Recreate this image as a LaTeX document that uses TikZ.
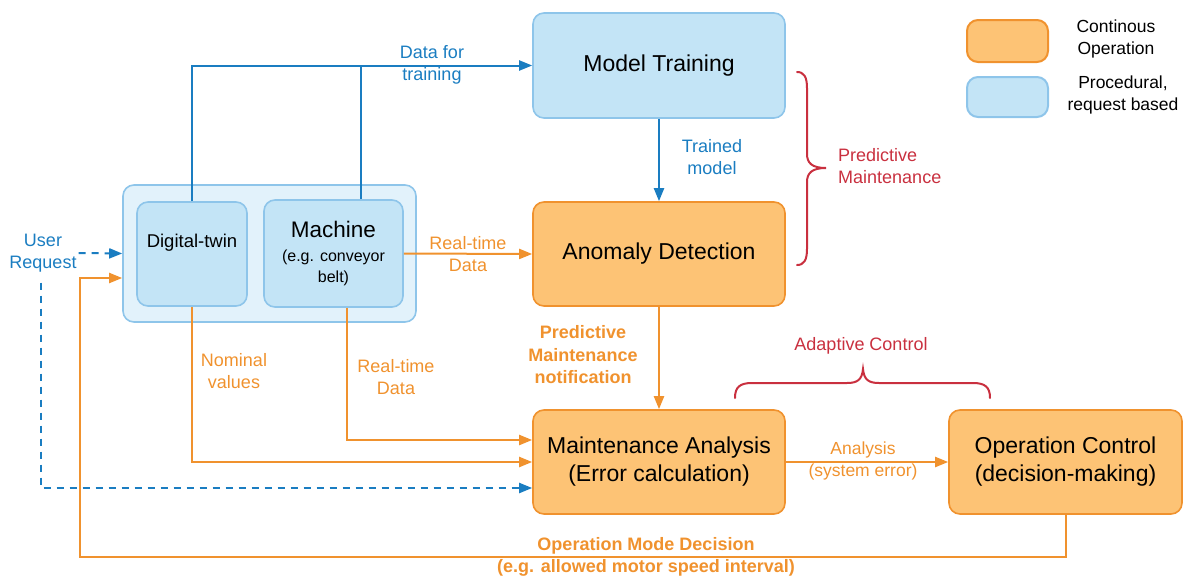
\documentclass[tikz,border=0pt]{standalone}
\usepackage{fontspec}
\setmainfont{Liberation Sans}
\usetikzlibrary{arrows.meta,calc}
\definecolor{bline}{HTML}{1A7DC1}
\definecolor{oline}{HTML}{F0922E}
\definecolor{ofill}{HTML}{FDC375}
\definecolor{bfill}{HTML}{C3E4F6}
\definecolor{bdraw}{HTML}{8EC5EA}
\definecolor{gfill}{HTML}{E2F2FB}
\definecolor{rcol}{HTML}{C9303F}
\begin{document}
\begin{tikzpicture}[x=1pt,y=-1pt,
 bbox/.style={draw=bdraw,fill=bfill,line width=1.6pt,rounded corners=11pt,inner sep=0pt,align=center},
 obox/.style={draw=oline,fill=ofill,line width=1.6pt,rounded corners=11pt,inner sep=0pt,align=center},
 big/.style={font=\fontsize{23}{28}\selectfont},
 lbl/.style={font=\fontsize{18}{22.5}\selectfont,align=center,inner sep=0pt},
 barr/.style={draw=bline,line width=2pt,-{Triangle[length=13pt,width=10pt]}},
 oarr/.style={draw=oline,line width=2pt,-{Triangle[length=13pt,width=10pt]}},
 dasharr/.style={barr,dash pattern=on 7pt off 6pt},
 brace/.style={draw=rcol,line width=2pt,line cap=round}
]
\useasboundingbox (0,0) rectangle (1184,579);

% group box
\node[bbox,fill=gfill,minimum width=293pt,minimum height=137pt] (og) at (269.5,253.5) {};
\node[bbox,font=\fontsize{18.5}{22}\selectfont,minimum width=110pt,minimum height=104pt] (dt) at (192,254) {Digital-twin\\[4pt]};
\node[bbox,font=\fontsize{16}{21}\selectfont,minimum width=139pt,minimum height=107pt] (mc) at (333.5,253.5)
 {{\fontsize{22.5}{24}\selectfont Machine}\\[3pt](e.g. conveyor\\belt)};

% main boxes
\node[bbox,big,minimum width=252pt,minimum height=105pt] (mt) at (659,65.5) {Model Training};
\node[obox,big,minimum width=252pt,minimum height=104pt] (an) at (659,254) {Anomaly Detection};
\node[obox,big,minimum width=252pt,minimum height=104pt] (ma) at (659,462) {Maintenance Analysis\\(Error calculation)};
\node[obox,big,minimum width=233pt,minimum height=104pt] (oc) at (1065.5,462) {Operation Control\\(decision-making)};

% legend
\node[obox,line width=2pt,minimum width=81pt,minimum height=42pt] (lo) at (1007.5,41) {};
\node[bbox,line width=2pt,minimum width=81pt,minimum height=40pt] (lb) at (1007.5,97) {};
\node[lbl,font=\fontsize{17.5}{22.5}\selectfont] (lot) at (1116,39) {Continous\\Operation};
\node[lbl,font=\fontsize{17.5}{22.5}\selectfont] (lbt) at (1123,95) {Procedural,\\request based};

% labels
\node[lbl,text=bline] (l1) at (432,65) {Data for\\training};
\node[lbl,text=bline] (l2) at (712,157) {Trained\\model};
\node[lbl,text=oline] (l3) at (468,254) {Real-time\\Data};
\node[lbl,text=oline,font=\bfseries\fontsize{18}{22.5}\selectfont] (l4) at (583,355) {Predictive\\Maintenance\\notification};
\node[lbl,text=oline] (l5) at (234,371) {Nominal\\values};
\node[lbl,text=oline] (l6) at (396,377) {Real-time\\Data};
\node[lbl,text=bline] (ur) at (43,253) {User\\Request};
\node[lbl,text=oline,font=\fontsize{17.5}{22}\selectfont] (l7) at (863,461) {Analysis\\(system error)};
\node[lbl,text=oline,font=\bfseries\fontsize{18}{22}\selectfont] (l8) at (646,557) {Operation Mode Decision\\(e.g. allowed motor speed interval)};
\node[lbl,text=rcol] (l9) at (838,166) [anchor=west,align=left] {Predictive\\Maintenance};
\node[lbl,text=rcol] (l10) at (861,346) {Adaptive Control};

% blue connectors
\coordinate (j1) at (361,67);
\draw[draw=bline,line width=2pt] ([xshift=27.5pt]mc.north) -- (j1);
\draw[barr] (dt.north) |- (mt.west);
\draw[barr] (mt.south) -- (an.north);

% orange connectors
\draw[oarr] (mc.east) -- (an.west);
\draw[oarr] (an.south) -- (ma.north);
\draw[oarr] (dt.south) |- (ma.west);
\draw[oarr] ([xshift=13.5pt]mc.south) |- ([yshift=22pt]ma.west);
\draw[oarr] (ma.east) -- (oc.west);
\coordinate (fb) at (80,557);
\draw[oarr] (oc.south) |- (fb) |- ([yshift=-24.5pt]og.west);

% dashed user request
\draw[dasharr] ([xshift=2pt]ur.east) -- (og.west);
\draw[dasharr] ([xshift=-2pt,yshift=-10pt]ur.south) |- ([yshift=-26pt]ma.west);

% braces
\draw[brace] (797,72) .. controls (804,72) and (807,77) .. (807,88) -- (807,154)
 .. controls (807,163) and (812,168) .. (826,168)
 .. controls (812,168) and (807,173) .. (807,182) -- (807,249)
 .. controls (807,260) and (804,265) .. (797,265);
\draw[brace] (735,398) .. controls (735,387) and (740,383) .. (752,383) -- (847,383)
 .. controls (857,383) and (862,380) .. (863,369)
 .. controls (864,380) and (869,383) .. (879,383) -- (973,383)
 .. controls (985,383) and (990,387) .. (990,398);
\end{tikzpicture}
\end{document}
